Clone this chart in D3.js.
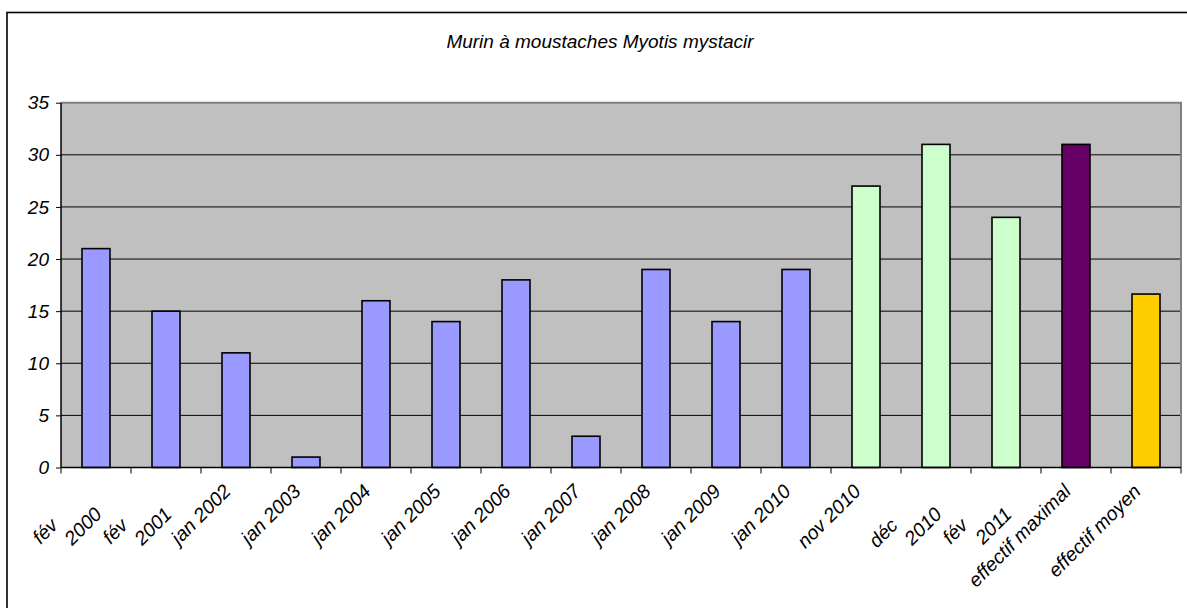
<!DOCTYPE html>
<html><head><meta charset="utf-8">
<script src="https://cdn.jsdelivr.net/npm/d3@7"></script>
<style>
html,body{margin:0;padding:0;background:#fff;}
svg{display:block;}
text{font-family:"Liberation Sans",Arial,sans-serif;font-style:italic;fill:#000;}
</style></head>
<body><svg id="c" width="1187" height="608"></svg>
<script>
const title = "Murin à moustaches Myotis mystacir";
const categories = ["fév 2000","fév 2001","jan 2002","jan 2003","jan 2004","jan 2005","jan 2006","jan 2007","jan 2008","jan 2009","jan 2010","nov 2010","déc 2010","fév 2011","effectif maximal","effectif moyen"];
const tickLabels = [["fév","2000"],["fév","2001"],["jan 2002"],["jan 2003"],["jan 2004"],["jan 2005"],["jan 2006"],["jan 2007"],["jan 2008"],["jan 2009"],["jan 2010"],["nov 2010"],["déc","2010"],["fév","2011"],["effectif maximal"],["effectif moyen"]];
const values = [21,15,11,1,16,14,18,3,19,14,19,27,31,24,31,16.64];
const groups = ["jan","jan","jan","jan","jan","jan","jan","jan","jan","jan","jan","hiver","hiver","hiver","max","moy"];
const yTicks = [0,5,10,15,20,25,30,35];
const groupColors = {jan:"#9999FF", hiver:"#CCFFCC", max:"#660066", moy:"#FFCC00"};

const svg = d3.select("#c");
// outer frame
svg.append("rect").attr("x",7).attr("y",12.5).attr("width",1200).attr("height",620)
  .attr("fill","none").attr("stroke","#000").attr("stroke-width",1.6);

svg.append("text").attr("x",600).attr("y",48).attr("text-anchor","middle")
  .style("font-size","19px").text(title);

const L=61, R=1181, T=102.7, B=467.5;
const x = d3.scaleBand().domain(categories).range([L,R]).paddingInner(0.6).paddingOuter(0.3);
const y = d3.scaleLinear().domain([0,35]).range([B,T]);

svg.append("rect").attr("x",L).attr("y",T).attr("width",R-L).attr("height",B-T).attr("fill","#C0C0C0");

// gridlines
svg.append("g").selectAll("line").data(yTicks.filter(d=>d>0 && d<35)).join("line")
  .attr("x1",L).attr("x2",R).attr("y1",d=>y(d)).attr("y2",d=>y(d))
  .attr("stroke","#000").attr("stroke-width",1);

// plot border top/right (grey)
svg.append("path").attr("d",`M${L},${y(35)}H${R}V${B}`).attr("fill","none")
  .attr("stroke","#808080").attr("stroke-width",2);

// bars
svg.append("g").selectAll("rect").data(categories).join("rect")
  .attr("x",d=>x(d)).attr("width",x.bandwidth())
  .attr("y",(d,i)=>y(values[i])).attr("height",(d,i)=>y(0)-y(values[i]))
  .attr("fill",(d,i)=>groupColors[groups[i]])
  .attr("stroke","#000").attr("stroke-width",1.6);

// y axis
const yAxis = svg.append("g").attr("transform",`translate(${L},0)`)
  .call(d3.axisLeft(y).tickValues(yTicks).tickSize(5).tickPadding(7).tickFormat(d3.format("d")));
yAxis.select(".domain").attr("stroke","#000").attr("stroke-width",1.5).attr("d",`M0,${T}V${B}`);
yAxis.selectAll(".tick line").attr("stroke","#000").attr("stroke-width",1);
yAxis.selectAll("text").style("font-size","19px").style("font-family",'"Liberation Sans",Arial,sans-serif').style("font-style","italic");

// x axis line and boundary ticks
const gap = (x.step()-x.bandwidth())/2;
const bounds = categories.map(d=>x(d)-gap).concat([R]);
svg.append("line").attr("x1",L).attr("x2",R).attr("y1",B).attr("y2",B).attr("stroke","#000").attr("stroke-width",1.5);
svg.append("g").selectAll("line").data(bounds).join("line")
  .attr("x1",d=>d).attr("x2",d=>d).attr("y1",B).attr("y2",B+6)
  .attr("stroke","#000").attr("stroke-width",1);

// x labels
const lg = svg.append("g").style("font-size","19.5px");
tickLabels.forEach((lines,i)=>{
  const cx = x(categories[i]) + x.bandwidth()/2;
  const offs = lines.length===1 ? [[-4,25]] : [[-37,59],[7,48]];
  lines.forEach((t,j)=>{
    const px = cx+offs[j][0], py = B+offs[j][1];
    lg.append("text").attr("text-anchor","end")
      .attr("transform",`translate(${px},${py}) rotate(-45)`).text(t);
  });
});
</script></body></html>
